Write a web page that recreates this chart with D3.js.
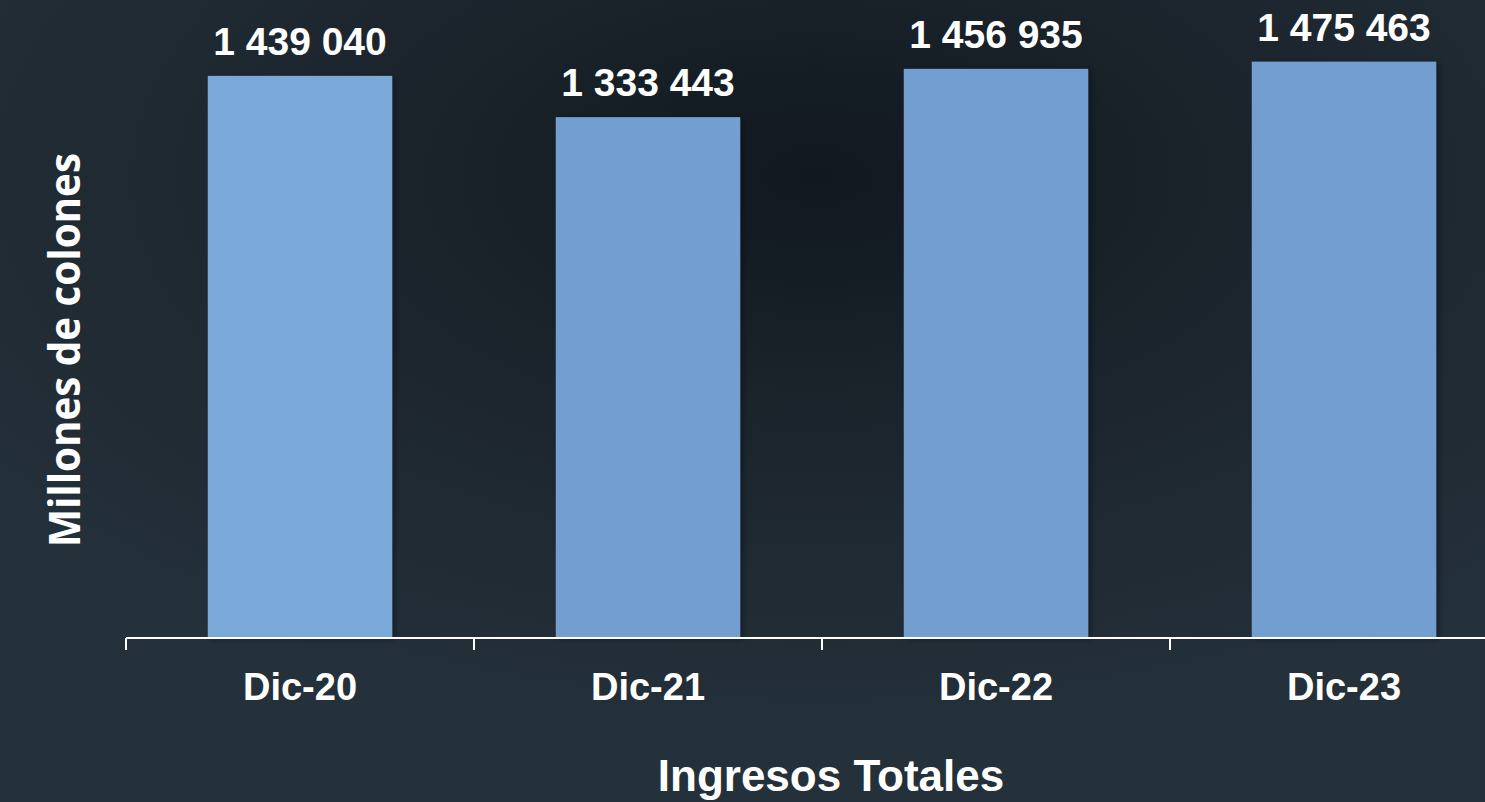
<!DOCTYPE html>
<html lang="es">
<head>
    <meta charset="UTF-8">
    <title>Ingresos Totales</title>
    <script src="https://d3js.org/d3.v7.min.js"></script>
    <style>
        body {
            margin: 0;
            padding: 0;
            overflow: hidden;
            background-color: #1c252d;
        }
        svg {
            display: block;
        }
    </style>
</head>
<body>
    <div id="chart"></div>

    <script>
        const periods = ["Dic-20", "Dic-21", "Dic-22", "Dic-23"];
        const ingresos = [1439040, 1333443, 1456935, 1475463];
        const barColors = ["#7aa8d9", "#739fd0", "#739fd0", "#739fd0"];

        const data = periods.map((p, i) => ({ period: p, value: ingresos[i], color: barColors[i] }));

        const width = 1485,
              height = 802;

        const svg = d3.select("#chart")
            .append("svg")
            .attr("width", width)
            .attr("height", height);

        const defs = svg.append("defs");

        const bg = defs.append("radialGradient")
            .attr("id", "bg")
            .attr("cx", "55%")
            .attr("cy", "22%")
            .attr("r", "70%");
        bg.append("stop").attr("offset", "0%").attr("stop-color", "#11181f");
        bg.append("stop").attr("offset", "50%").attr("stop-color", "#1d262e");
        bg.append("stop").attr("offset", "100%").attr("stop-color", "#24303a");

        const shadow = defs.append("filter")
            .attr("id", "shadow")
            .attr("x", "-10%").attr("y", "-10%")
            .attr("width", "130%").attr("height", "120%");
        shadow.append("feDropShadow")
            .attr("dx", 3).attr("dy", 1)
            .attr("stdDeviation", 3)
            .attr("flood-color", "#000")
            .attr("flood-opacity", 0.35);

        svg.append("rect")
            .attr("width", width)
            .attr("height", height)
            .attr("fill", "url(#bg)");

        const x = d3.scaleBand()
            .domain(periods)
            .range([126, 1518])
            .paddingInner(0.47)
            .paddingOuter(0.235);

        const y = d3.scaleLinear()
            .domain([0, 1600000])
            .range([638, 13]);

        svg.selectAll("rect.bar")
            .data(data)
            .enter()
            .append("rect")
            .attr("class", "bar")
            .attr("x", d => x(d.period))
            .attr("y", d => y(d.value))
            .attr("width", x.bandwidth())
            .attr("height", d => y(0) - y(d.value))
            .attr("fill", d => d.color)
            .attr("filter", "url(#shadow)");

        const fmt = v => d3.format(",")(v).replace(/,/g, " ");

        svg.selectAll("text.value")
            .data(data)
            .enter()
            .append("text")
            .attr("class", "value")
            .attr("x", d => x(d.period) + x.bandwidth() / 2)
            .attr("y", d => y(d.value) - 21)
            .attr("text-anchor", "middle")
            .style("font-family", "'Liberation Sans', Arial, sans-serif")
            .style("font-weight", "bold")
            .style("font-size", "39px")
            .style("fill", "#fff")
            .text(d => fmt(d.value));

        // category axis, ticks sit between the bars
        const axis = svg.append("g").attr("transform", "translate(0,638)");
        axis.append("line")
            .attr("x1", 126).attr("x2", width)
            .attr("stroke", "#fff")
            .attr("stroke-width", 2);

        const step = x.step();
        const tickPos = periods.map((p, i) => 126 + i * step);
        axis.selectAll("line.tick")
            .data(tickPos)
            .enter()
            .append("line")
            .attr("class", "tick")
            .attr("x1", d => d).attr("x2", d => d)
            .attr("y1", 0).attr("y2", 12)
            .attr("stroke", "#fff")
            .attr("stroke-width", 2);

        axis.selectAll("text")
            .data(periods)
            .enter()
            .append("text")
            .attr("x", d => x(d) + x.bandwidth() / 2)
            .attr("y", 62)
            .attr("text-anchor", "middle")
            .style("font-family", "'Liberation Sans', Arial, sans-serif")
            .style("font-weight", "bold")
            .style("font-size", "38px")
            .style("fill", "#fff")
            .text(d => d);

        svg.append("text")
            .attr("transform", "translate(80,350) rotate(-90)")
            .attr("text-anchor", "middle")
            .attr("textLength", 394)
            .attr("lengthAdjust", "spacingAndGlyphs")
            .style("font-family", "'Open Sans', sans-serif")
            .style("font-weight", "bold")
            .style("font-size", "43px")
            .style("fill", "#fff")
            .text("Millones de colones");

        svg.append("text")
            .attr("x", 831)
            .attr("y", 791)
            .attr("text-anchor", "middle")
            .style("font-family", "'Liberation Sans', Arial, sans-serif")
            .style("font-weight", "bold")
            .style("font-size", "44px")
            .style("fill", "#fff")
            .text("Ingresos Totales");
    </script>
</body>
</html>
